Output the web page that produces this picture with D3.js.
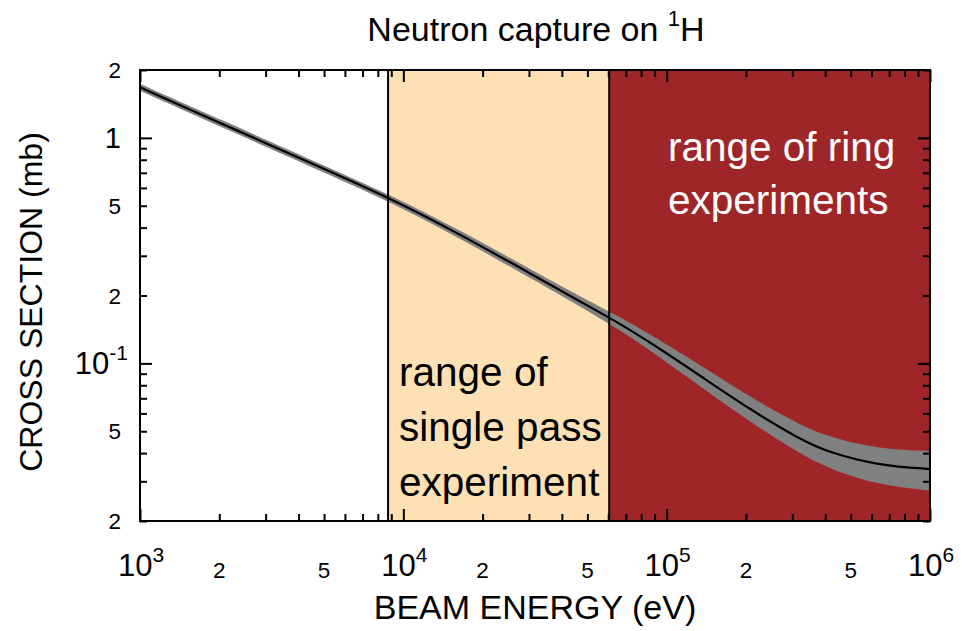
<!DOCTYPE html>
<html>
<head>
<meta charset="utf-8">
<script src="https://cdn.jsdelivr.net/npm/d3@7"></script>
<style>
  body { margin: 0; background: #fff; }
  svg { display: block; font-family: "Liberation Sans", Arial, Helvetica, sans-serif; }
</style>
</head>
<body>
<svg id="chart"></svg>
<script>
// curve: energy (eV), cross section (mb) and its band
var energy    = [1000, 2000, 5000, 8900, 16400, 33000, 47000, 66500, 86500, 134000, 207000, 321000, 417000, 645000, 1000000];
var sigma     = [1.676, 1.170, 0.728, 0.540, 0.374, 0.237, 0.188, 0.150, 0.124, 0.0882, 0.0625, 0.0460, 0.0401, 0.0352, 0.0340];
var sigmaLow  = [1.617, 1.129, 0.702, 0.521, 0.359, 0.226, 0.1786, 0.1404, 0.1143, 0.0792, 0.0550, 0.0397, 0.0339, 0.0288, 0.0273];
var sigmaHigh = [1.737, 1.213, 0.754, 0.560, 0.390, 0.248, 0.1979, 0.1603, 0.1346, 0.0982, 0.0710, 0.0533, 0.0470, 0.0417, 0.0409];

// shaded energy ranges
var rangeStart = [8750, 60500];
var rangeEnd   = [60500, 1000000];
var rangeColor = ["#fde0b4", "#9f2628"];

// tick labels ([base, exponent] for powers of ten)
var xTickValues = [1e3, 2e3, 5e3, 1e4, 2e4, 5e4, 1e5, 2e5, 5e5, 1e6];
var xTickLabels = [["10","3"], "2", "5", ["10","4"], "2", "5", ["10","5"], "2", "5", ["10","6"]];
var yTickValues = [2, 1, 0.5, 0.2, 0.1, 0.05, 0.02];
var yTickLabels = ["2", "1", "5", "2", ["10","-1"], "5", "2"];

(function() {
    var width = 966, height = 631;
    var pLeft = 140, pRight = 930, pTop = 70, pBottom = 521;

    var svg = d3.select("#chart")
        .attr("width", width)
        .attr("height", height);

    var x = d3.scaleLog().domain([1e3, 1e6]).range([pLeft, pRight]);
    var y = d3.scaleLog().domain([0.02, 2]).range([pBottom, pTop]);

    svg.append("clipPath").attr("id", "plot-clip")
      .append("rect")
        .attr("x", pLeft).attr("y", pTop)
        .attr("width", pRight - pLeft).attr("height", pBottom - pTop);

    var plot = svg.append("g").attr("clip-path", "url(#plot-clip)");

    // energy ranges
    rangeStart.forEach(function(s, i) {
        plot.append("rect")
            .attr("x", x(s))
            .attr("y", pTop)
            .attr("width", x(rangeEnd[i]) - x(s))
            .attr("height", pBottom - pTop)
            .style("fill", rangeColor[i]);
    });

    var pts = energy.map(function(e, i) {
        return { e: e, s: sigma[i], lo: sigmaLow[i], hi: sigmaHigh[i] };
    });

    plot.append("path")
        .datum(pts)
        .attr("d", d3.area()
            .x(function(d) { return x(d.e); })
            .y0(function(d) { return y(d.lo); })
            .y1(function(d) { return y(d.hi); })
            .curve(d3.curveBasis))
        .style("fill", "#808080");

    plot.append("path")
        .datum(pts)
        .attr("d", d3.line()
            .x(function(d) { return x(d.e); })
            .y(function(d) { return y(d.s); })
            .curve(d3.curveBasis))
        .style("fill", "none")
        .style("stroke", "#000")
        .style("stroke-width", 2.2);

    // boundary lines of the ranges
    rangeStart.forEach(function(s) {
        svg.append("line")
            .attr("x1", x(s)).attr("x2", x(s))
            .attr("y1", pTop).attr("y2", pBottom)
            .style("stroke", "#000").style("stroke-width", 2);
    });

    // in-plot labels
    var singleLines = ["range of", "single pass", "experiment"];
    var ringLines = ["range of ring", "experiments"];

    singleLines.forEach(function(t, i) {
        svg.append("text")
            .attr("x", x(rangeStart[0]) + 11)
            .attr("y", 386 + i * 55)
            .style("font-size", "40.5px")
            .attr("fill", "#000")
            .text(t);
    });
    ringLines.forEach(function(t, i) {
        svg.append("text")
            .attr("x", 668)
            .attr("y", 161 + i * 53)
            .style("font-size", "40.5px")
            .attr("fill", "#fff")
            .text(t);
    });

    // ticks: majors at decades, minors elsewhere, mirrored on all sides
    function isDecade(v) { return Math.abs(Math.log10(v) - Math.round(Math.log10(v))) < 1e-9; }
    var xMajor = x.ticks().filter(isDecade);
    var xMinor = x.ticks().filter(function(v) { return !isDecade(v); });
    var yMajor = y.ticks().filter(isDecade);
    var yMinor = y.ticks().filter(function(v) { return !isDecade(v); });

    function tickAxis(axisFn, scale, vals, size, transform) {
        var g = svg.append("g")
            .attr("transform", transform)
            .call(axisFn(scale).tickValues(vals).tickSize(-size).tickFormat(""));
        g.select(".domain").remove();
        g.selectAll("line").style("stroke", "#000").style("stroke-width", 2);
    }
    tickAxis(d3.axisBottom, x, xMajor, 12, "translate(0," + pBottom + ")");
    tickAxis(d3.axisBottom, x, xMinor, 7, "translate(0," + pBottom + ")");
    tickAxis(d3.axisTop, x, xMajor, 12, "translate(0," + pTop + ")");
    tickAxis(d3.axisTop, x, xMinor, 7, "translate(0," + pTop + ")");
    tickAxis(d3.axisLeft, y, yMajor, 12, "translate(" + pLeft + ",0)");
    tickAxis(d3.axisLeft, y, yMinor, 7, "translate(" + pLeft + ",0)");
    tickAxis(d3.axisRight, y, yMajor, 12, "translate(" + pRight + ",0)");
    tickAxis(d3.axisRight, y, yMinor, 7, "translate(" + pRight + ",0)");

    // frame
    svg.append("rect")
        .attr("x", pLeft).attr("y", pTop)
        .attr("width", pRight - pLeft).attr("height", pBottom - pTop)
        .style("fill", "none").style("stroke", "#000").style("stroke-width", 2);

    // tick labels
    function tickLabel(g, lab, px, py, anchor) {
        var t = g.append("text")
            .attr("x", px).attr("y", py)
            .attr("text-anchor", anchor)
            .attr("fill", "#000");
        if (typeof lab === "string") {
            t.style("font-size", "22.5px").text(lab);
        } else {
            t.style("font-size", "31px");
            t.append("tspan").text(lab[0]);
            t.append("tspan").attr("dy", -14).style("font-size", "21px").text(lab[1]);
        }
    }
    var labels = svg.append("g");
    xTickValues.forEach(function(v, i) {
        var lab = xTickLabels[i];
        var minor = typeof lab === "string";
        tickLabel(labels, lab, x(v) + (minor ? 0 : 1), minor ? 578 : 576, "middle");
    });
    yTickValues.forEach(function(v, i) {
        var lab = yTickLabels[i];
        var minor = typeof lab === "string" && lab !== "1";
        if (lab === "1") {
            labels.append("text")
                .attr("x", 121).attr("y", y(v) + 10)
                .attr("text-anchor", "end")
                .style("font-size", "29px")
                .text(lab);
        } else {
            tickLabel(labels, lab, minor ? 121 : 128, y(v) + (minor ? 8 : 11), "end");
        }
    });

    // axis titles
    svg.append("text")
        .attr("x", 535).attr("y", 619)
        .attr("text-anchor", "middle")
        .style("font-size", "34px")
        .text("BEAM ENERGY (eV)");

    svg.append("text")
        .attr("transform", "translate(42," + 302 + ") rotate(-90)")
        .attr("text-anchor", "middle")
        .style("font-size", "32px")
        .text("CROSS SECTION (mb)");

    var title = svg.append("text")
        .attr("x", 536).attr("y", 41)
        .attr("text-anchor", "middle")
        .style("font-size", "34px");
    title.append("tspan").text("Neutron capture on ");
    title.append("tspan").attr("dy", -15).style("font-size", "22px").text("1");
    title.append("tspan").attr("dy", 15).text("H");
})();
</script>
</body>
</html>
